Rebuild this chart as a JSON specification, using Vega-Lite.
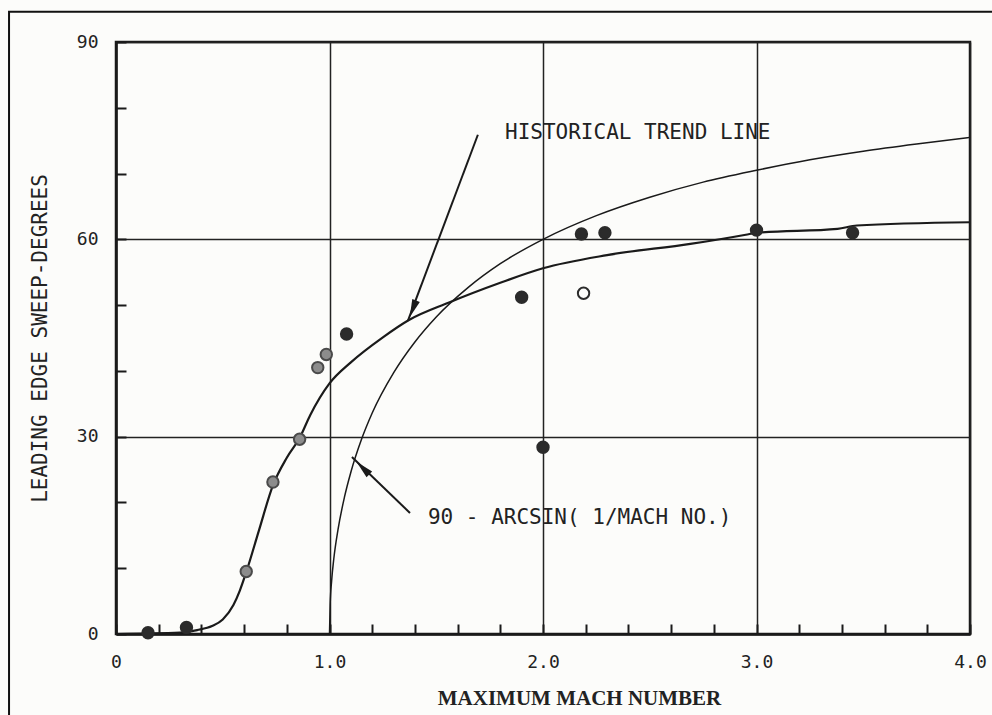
{
  "$schema": "https://vega.github.io/schema/vega-lite/v6.json",
  "width": 854,
  "height": 592,
  "autosize": {"type": "none"},
  "padding": {"left": 116, "top": 42, "right": 22, "bottom": 81},
  "background": "#fcfcfa",
  "config": {
    "view": {"stroke": "#1a1a1a", "strokeWidth": 2.5},
    "axis": {"labelFont": "DejaVu Sans Mono", "titleFont": "DejaVu Sans Mono", "labelColor": "#222", "titleColor": "#222"}
  },
  "datasets": {
    "trend": [
      {"mach": 0.0, "sweep": 0.0},
      {"mach": 0.30, "sweep": 0.2},
      {"mach": 0.38, "sweep": 0.6},
      {"mach": 0.45, "sweep": 1.2},
      {"mach": 0.50, "sweep": 2.2},
      {"mach": 0.55, "sweep": 4.4},
      {"mach": 0.58, "sweep": 6.6},
      {"mach": 0.61, "sweep": 9.4},
      {"mach": 0.67, "sweep": 15.8},
      {"mach": 0.735, "sweep": 22.6},
      {"mach": 0.80, "sweep": 26.8},
      {"mach": 0.86, "sweep": 29.8},
      {"mach": 0.91, "sweep": 33.3},
      {"mach": 1.0, "sweep": 38.1},
      {"mach": 1.1, "sweep": 41.3},
      {"mach": 1.25, "sweep": 45.1},
      {"mach": 1.37, "sweep": 47.7},
      {"mach": 1.56, "sweep": 50.4},
      {"mach": 1.8, "sweep": 53.4},
      {"mach": 2.0, "sweep": 55.6},
      {"mach": 2.3, "sweep": 57.6},
      {"mach": 2.69, "sweep": 59.3},
      {"mach": 2.95, "sweep": 60.7},
      {"mach": 3.0, "sweep": 61.0},
      {"mach": 3.38, "sweep": 61.6},
      {"mach": 3.47, "sweep": 62.1},
      {"mach": 4.0, "sweep": 62.6}
    ],
    "arcsin": [
      {"mach": 1.0, "sweep": 0.0},
      {"mach": 1.003, "sweep": 4.4},
      {"mach": 1.01, "sweep": 8.1},
      {"mach": 1.02, "sweep": 11.4},
      {"mach": 1.04, "sweep": 15.9},
      {"mach": 1.07, "sweep": 20.8},
      {"mach": 1.1, "sweep": 24.6},
      {"mach": 1.15, "sweep": 29.6},
      {"mach": 1.2, "sweep": 33.6},
      {"mach": 1.3, "sweep": 39.7},
      {"mach": 1.4, "sweep": 44.4},
      {"mach": 1.5, "sweep": 48.2},
      {"mach": 1.65, "sweep": 52.7},
      {"mach": 1.8, "sweep": 56.3},
      {"mach": 2.0, "sweep": 60.0},
      {"mach": 2.25, "sweep": 63.6},
      {"mach": 2.5, "sweep": 66.4},
      {"mach": 2.75, "sweep": 68.7},
      {"mach": 3.0, "sweep": 70.5},
      {"mach": 3.25, "sweep": 72.1},
      {"mach": 3.5, "sweep": 73.4},
      {"mach": 3.75, "sweep": 74.5},
      {"mach": 4.0, "sweep": 75.5}
    ],
    "aircraft": [
      {"mach": 0.15, "sweep": 0.2, "kind": "dark"},
      {"mach": 0.33, "sweep": 1.0, "kind": "dark"},
      {"mach": 0.61, "sweep": 9.5, "kind": "gray"},
      {"mach": 0.735, "sweep": 23.1, "kind": "gray"},
      {"mach": 0.86, "sweep": 29.6, "kind": "gray"},
      {"mach": 0.945, "sweep": 40.5, "kind": "gray"},
      {"mach": 0.985, "sweep": 42.5, "kind": "gray"},
      {"mach": 1.08, "sweep": 45.6, "kind": "dark"},
      {"mach": 1.90, "sweep": 51.2, "kind": "dark"},
      {"mach": 2.0, "sweep": 28.4, "kind": "dark"},
      {"mach": 2.18, "sweep": 60.8, "kind": "dark"},
      {"mach": 2.29, "sweep": 61.0, "kind": "dark"},
      {"mach": 2.19, "sweep": 51.8, "kind": "open"},
      {"mach": 3.0, "sweep": 61.4, "kind": "dark"},
      {"mach": 3.45, "sweep": 61.0, "kind": "dark"}
    ],
    "arrows": [
      {"arrow": "trend", "mach": 1.695, "sweep": 75.9, "step": 0},
      {"arrow": "trend", "mach": 1.367, "sweep": 47.6, "step": 1},
      {"arrow": "arcsin", "mach": 1.377, "sweep": 18.4, "step": 0},
      {"arrow": "arcsin", "mach": 1.105, "sweep": 26.9, "step": 1}
    ],
    "labels": [
      {"text": "HISTORICAL TREND LINE", "mach": 1.822, "sweep": 76.2},
      {"text": "90 - ARCSIN( 1/MACH NO.)", "mach": 1.461, "sweep": 17.6}
    ]
  },
  "layer": [
    {
      "data": {"values": [{}]},
      "mark": {"type": "rect", "filled": false, "stroke": "#111", "strokeWidth": 2, "clip": false},
      "encoding": {
        "x": {"datum": -0.501, "type": "quantitative"},
        "x2": {"datum": 4.3},
        "y": {"datum": 94.6, "type": "quantitative"},
        "y2": {"datum": -20}
      }
    },
    {
      "data": {"name": "trend"},
      "mark": {"type": "line", "interpolate": "monotone", "stroke": "#1a1a1a", "strokeWidth": 2.2},
      "encoding": {
        "x": {
          "field": "mach", "type": "quantitative",
          "scale": {"domain": [0, 4], "nice": false, "zero": false},
          "axis": {
            "values": [0, 0.2, 0.4, 0.6, 0.8, 1, 1.2, 1.4, 1.6, 1.8, 2, 2.2, 2.4, 2.6, 2.8, 3, 3.2, 3.4, 3.6, 3.8, 4],
            "title": "MAXIMUM MACH NUMBER",
            "titleFont": "Liberation Serif", "titleFontWeight": "bold", "titleFontSize": 21,
            "titleX": 463, "titleY": 64, "titleBaseline": "middle", "titleAnchor": null, "titleAlign": "center",
            "labelExpr": "datum.value == 0 ? '0' : (datum.value % 1 == 0 ? format(datum.value, '.1f') : '')",
            "labelFontSize": 18, "labelPadding": 29, "labelFlush": false,
            "tickSize": -10, "tickColor": "#1a1a1a", "tickWidth": 2,
            "domainColor": "#1a1a1a", "domainWidth": 2.5,
            "grid": true, "gridColor": "#222", "gridWidth": 1.5,
            "gridOpacity": {"condition": {"test": "datum.value % 1 == 0", "value": 1}, "value": 0}
          }
        },
        "y": {
          "field": "sweep", "type": "quantitative",
          "scale": {"domain": [0, 90], "nice": false},
          "axis": {
            "values": [0, 10, 20, 30, 40, 50, 60, 70, 80, 90],
            "title": "LEADING EDGE SWEEP-DEGREES",
            "titleFontSize": 21, "titleFontWeight": "normal",
            "titleX": -76, "titleY": 296, "titleAngle": -90, "titleAlign": "center", "titleBaseline": "middle", "titleAnchor": null,
            "labelExpr": "datum.value % 30 == 0 ? datum.label : ''",
            "labelFontSize": 18, "labelPadding": 28, "labelFlush": false,
            "tickSize": -10, "tickColor": "#1a1a1a", "tickWidth": 2,
            "domainColor": "#1a1a1a", "domainWidth": 2.5,
            "grid": true, "gridColor": "#222", "gridWidth": 1.5,
            "gridOpacity": {"condition": {"test": "datum.value % 30 == 0", "value": 1}, "value": 0}
          }
        }
      }
    },
    {
      "data": {"name": "arcsin"},
      "mark": {"type": "line", "interpolate": "monotone", "stroke": "#1a1a1a", "strokeWidth": 1.5},
      "encoding": {
        "x": {"field": "mach", "type": "quantitative"},
        "y": {"field": "sweep", "type": "quantitative"}
      }
    },
    {
      "data": {"name": "arrows"},
      "mark": {"type": "line", "stroke": "#1a1a1a", "strokeWidth": 2},
      "encoding": {
        "x": {"field": "mach", "type": "quantitative"},
        "y": {"field": "sweep", "type": "quantitative"},
        "detail": {"field": "arrow"},
        "order": {"field": "step"}
      }
    },
    {
      "data": {"name": "arrows"},
      "transform": [{"filter": "datum.step == 1 && datum.arrow == 'trend'"}],
      "mark": {"type": "point", "shape": "M0,-1L0.45,1L-0.45,1Z", "filled": true, "color": "#1a1a1a", "opacity": 1, "size": 320, "angle": 201, "xOffset": 5, "yOffset": -12},
      "encoding": {
        "x": {"field": "mach", "type": "quantitative"},
        "y": {"field": "sweep", "type": "quantitative"}
      }
    },
    {
      "data": {"name": "arrows"},
      "transform": [{"filter": "datum.step == 1 && datum.arrow == 'arcsin'"}],
      "mark": {"type": "point", "shape": "M0,-1L0.45,1L-0.45,1Z", "filled": true, "color": "#1a1a1a", "opacity": 1, "size": 320, "angle": 314, "xOffset": 11, "yOffset": 11},
      "encoding": {
        "x": {"field": "mach", "type": "quantitative"},
        "y": {"field": "sweep", "type": "quantitative"}
      }
    },
    {
      "data": {"name": "aircraft"},
      "mark": {"type": "point", "shape": "circle", "filled": true, "size": 130, "strokeWidth": 2, "opacity": 1},
      "encoding": {
        "x": {"field": "mach", "type": "quantitative"},
        "y": {"field": "sweep", "type": "quantitative"},
        "fill": {"field": "kind", "type": "nominal", "scale": {"domain": ["dark", "gray", "open"], "range": ["#2b2b2b", "#8c8c8c", "#fcfcfa"]}, "legend": null},
        "stroke": {"field": "kind", "type": "nominal", "scale": {"domain": ["dark", "gray", "open"], "range": ["#2b2b2b", "#4a4a4a", "#2b2b2b"]}, "legend": null}
      }
    },
    {
      "data": {"name": "labels"},
      "mark": {"type": "text", "font": "DejaVu Sans Mono", "fontSize": 21, "align": "left", "baseline": "middle", "color": "#222"},
      "encoding": {
        "x": {"field": "mach", "type": "quantitative"},
        "y": {"field": "sweep", "type": "quantitative"},
        "text": {"field": "text"}
      }
    }
  ]
}
